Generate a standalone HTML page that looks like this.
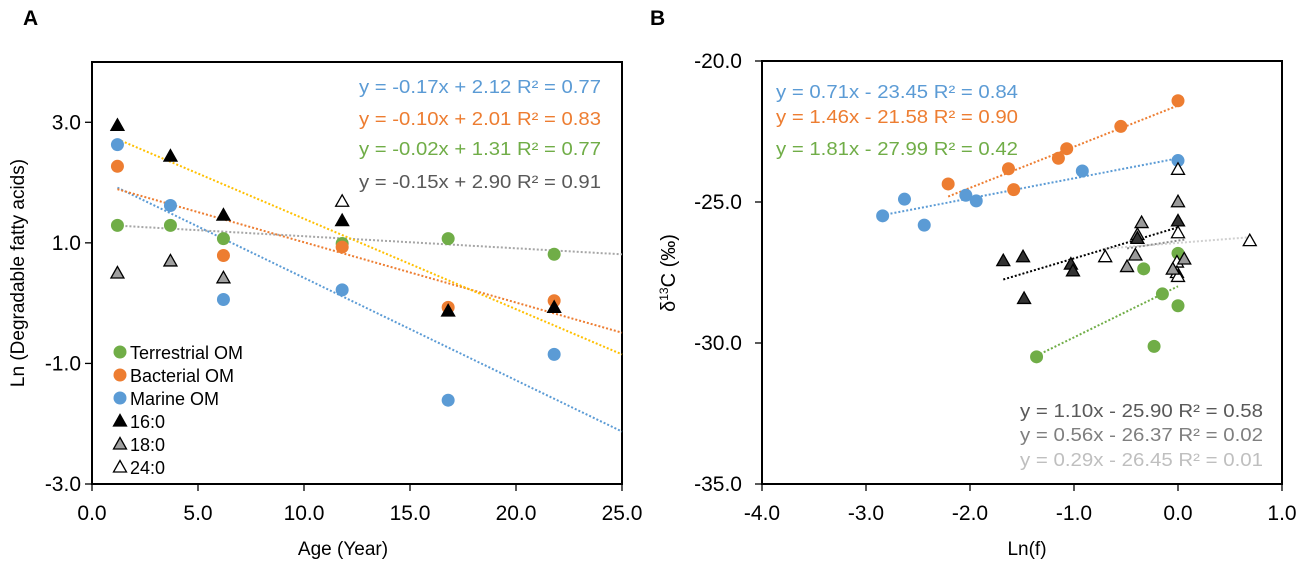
<!DOCTYPE html>
<html><head><meta charset="utf-8"><style>
html,body{margin:0;padding:0;background:#fff;}
svg{display:block;font-family:"Liberation Sans",Arial,sans-serif;}
</style></head><body>
<svg id="c" width="1299" height="563" viewBox="0 0 1299 563"></svg>
<script>
// ---- Panel A data ----
const agesA = [1.2, 3.7, 6.2, 11.8, 16.8, 21.8];
const terrA = [1.29, 1.29, 1.07, 0.99, 1.07, 0.81];
const bactA = [2.27, null, 0.79, 0.93, -0.07, 0.04];
const marA = [2.63, 1.62, 0.06, 0.22, -1.61, -0.85];
const c16A = [2.95, 2.44, 1.46, 1.37, -0.13, -0.07];
const c18A = [0.50, 0.70, 0.42, null, null, null];
const c24A = [null, null, null, 1.69, null, null];
const xTicksA = [0, 5, 10, 15, 20, 25];
const yTicksA = [-3, -1, 1, 3];
const fitsA = [ // slope, intercept
  [-0.17, 2.12], [-0.10, 2.01], [-0.02, 1.31], [-0.15, 2.90]];
const eqA = ["y = -0.17x + 2.12  R² = 0.77","y = -0.10x + 2.01  R² = 0.83","y = -0.02x + 1.31  R² = 0.77","y = -0.15x + 2.90  R² = 0.91"];
// ---- Panel B data ----
const marBx = [-2.84,-2.63,-2.44,-2.04,-1.94,-0.92,0.0];
const marBy = [-25.49,-24.90,-25.82,-24.76,-24.96,-23.90,-23.53];
const bacBx = [-2.21,-1.63,-1.58,-1.15,-1.07,-0.55,0.0];
const bacBy = [-24.36,-23.82,-24.56,-23.45,-23.11,-22.32,-21.41];
const terBx = [-1.36,-0.33,-0.15,-0.23,0.0,0.0];
const terBy = [-30.49,-27.37,-28.26,-30.12,-26.82,-28.68];
const c16Bx = [-1.68,-1.49,-1.48,-1.03,-1.01,-0.39,0.0];
const c16By = [-27.08,-26.94,-28.42,-27.20,-27.44,-26.29,-25.67];
const c18Bx = [-0.35,-0.39,-0.41,-0.49,0.0,0.06,-0.05];
const c18By = [-25.73,-26.15,-26.88,-27.29,-24.99,-27.02,-27.38];
const c24Bx = [0.0,0.0,-0.70,0.69,-0.01,-0.01,0.0];
const c24By = [-23.84,-26.09,-26.94,-26.37,-27.13,-27.50,-27.64];
const xTicksB = [-4,-3,-2,-1,0,1];
const yTicksB = [-35,-30,-25,-20];
const eqB1 = ["y = 0.71x - 23.45  R² = 0.84","y = 1.46x - 21.58  R² = 0.90","y = 1.81x - 27.99  R² = 0.42"];
const eqB2 = ["y = 1.10x - 25.90  R² = 0.58","y = 0.56x - 26.37  R² = 0.02","y = 0.29x - 26.45  R² = 0.01"];
const fitsB = [[0.71,-23.45],[1.46,-21.58],[1.81,-27.99],[1.10,-25.90],[0.56,-26.37],[0.29,-26.45]];

const BLUE="#5B9BD5",ORANGE="#ED7D31",GREEN="#70AD47",YEL="#FFC000";
const svg=document.getElementById('c');
const NS="http://www.w3.org/2000/svg";
function el(tag,attrs,parent){const e=document.createElementNS(NS,tag);for(const k in attrs)e.setAttribute(k,attrs[k]);(parent||svg).appendChild(e);return e;}
function txt(s,attrs,parent){const e=el('text',attrs,parent);e.textContent=s;return e;}

// scales
const ax=v=>92+(v-0)*(530/25), ay=v=>484-(v+3)*(422/7);
const bx=v=>762+(v+4)*104, by=v=>484-(v+35)*(423/15);

function circle(cx,cy,col,g){const e=el('circle',{cx:cx,cy:cy,r:6.5,fill:col},g);

return e;}
function tri(cx,cy,fill,g){const e=el('polygon',{points:`${cx},${cy-6.5} ${cx+6.5},${cy+5} ${cx-6.5},${cy+5}`,fill:fill,stroke:'#000','stroke-width':1.3},g);

return e;}
function line(x1,y1,x2,y2,col,g){const e=el('line',{x1:x1,y1:y1,x2:x2,y2:y2,stroke:col,'stroke-width':2,'stroke-dasharray':'2 2'},g);

return e;}

// ---------- Panel A ----------
const gA=el('g',{});


txt('A',{x:23,y:25,'font-size':21,'font-weight':'bold'},gA);
el('rect',{x:92,y:62,width:530,height:422,fill:'none',stroke:'#000','stroke-width':2},gA);
xTicksA.forEach(t=>{el('line',{x1:ax(t),x2:ax(t),y1:484,y2:491,stroke:'#000','stroke-width':1.3},gA);
 const l=txt(t.toFixed(1),{x:ax(t),y:520,'text-anchor':'middle','font-size':21},gA);
 
 });
yTicksA.forEach(t=>{el('line',{x1:85,x2:92,y1:ay(t),y2:ay(t),stroke:'#000','stroke-width':1.3},gA);
 const l=txt(t.toFixed(1),{x:81,y:ay(t)+7,'text-anchor':'end','font-size':21},gA);
 
 });
txt('Age (Year)',{x:343,y:555,'text-anchor':'middle','font-size':19,},gA);
txt('Ln (Degradable fatty acids)',{x:0,y:0,transform:'translate(24,273) rotate(-90)','text-anchor':'middle','font-size':19,},gA);
// trendlines
const fitColsA=[BLUE,ORANGE,'#A6A6A6',YEL];
fitsA.forEach((f,i)=>line(ax(agesA[0]),ay(f[0]*agesA[0]+f[1]),ax(25),ay(f[0]*25+f[1]),fitColsA[i],gA));
agesA.forEach((a,i)=>{
 if(terrA[i]!=null)circle(ax(a),ay(terrA[i]),GREEN,gA);
 if(bactA[i]!=null)circle(ax(a),ay(bactA[i]),ORANGE,gA);
 if(marA[i]!=null)circle(ax(a),ay(marA[i]),BLUE,gA);
 if(c16A[i]!=null)tri(ax(a),ay(c16A[i]),'#000',gA);
 if(c18A[i]!=null)tri(ax(a),ay(c18A[i]),'#A0A0A0',gA);
 if(c24A[i]!=null)tri(ax(a),ay(c24A[i]),'#fff',gA);
});
const eqColA=[BLUE,ORANGE,GREEN,'#595959'];
const eqYA=[93,125,155,188];
eqA.forEach((s,i)=>{const t=txt(s,{x:601,y:eqYA[i],'text-anchor':'end','font-size':18,fill:eqColA[i],textLength:242,lengthAdjust:'spacingAndGlyphs'},gA);
 
 });
// legend
const legG=el('g',{},gA);


const legNames=['Terrestrial OM','Bacterial OM','Marine OM','16:0','18:0','24:0'];
legNames.forEach((n,i)=>{const y=352+i*23;
 if(i==0)circle(120,y,GREEN,legG);if(i==1)circle(120,y,ORANGE,legG);if(i==2)circle(120,y,BLUE,legG);
 if(i==3)tri(120,y,'#000',legG);if(i==4)tri(120,y,'#A0A0A0',legG);if(i==5)tri(120,y,'#fff',legG);
 const t=txt(n,{x:130,y:y+7,'font-size':18},legG);
 
 });

// ---------- Panel B ----------
const gB=el('g',{});


txt('B',{x:650,y:25,'font-size':21,'font-weight':'bold'},gB);
el('rect',{x:762,y:61,width:520,height:423,fill:'none',stroke:'#000','stroke-width':2},gB);
xTicksB.forEach(t=>{el('line',{x1:bx(t),x2:bx(t),y1:484,y2:491,stroke:'#000','stroke-width':1.3},gB);
 const l=txt(t.toFixed(1),{x:bx(t),y:520,'text-anchor':'middle','font-size':21},gB);
 
 });
yTicksB.forEach(t=>{el('line',{x1:755,x2:762,y1:by(t),y2:by(t),stroke:'#000','stroke-width':1.3},gB);
 const l=txt(t.toFixed(1),{x:742,y:by(t)+7,'text-anchor':'end','font-size':21},gB);
 
 });
txt('Ln(f)',{x:1027,y:555,'text-anchor':'middle','font-size':19,},gB);
const yt=el('text',{transform:'translate(675,273) rotate(-90)','text-anchor':'middle','font-size':20,},gB);
yt.innerHTML='δ<tspan font-size="12" dy="-7">13</tspan><tspan dy="7">C (‰)</tspan>';
// trendlines
const rangesB=[[-2.84,0],[-2.21,0],[-1.36,0],[-1.68,0],[-0.49,0.06],[-0.70,0.69]];
const fitColsB=[BLUE,ORANGE,GREEN,'#000','#8C8C8C','#D0D0D0'];
fitsB.forEach((f,i)=>{const r=rangesB[i];line(bx(r[0]),by(f[0]*r[0]+f[1]),bx(r[1]),by(f[0]*r[1]+f[1]),fitColsB[i],gB);});
marBx.forEach((x,i)=>circle(bx(x),by(marBy[i]),BLUE,gB));
bacBx.forEach((x,i)=>circle(bx(x),by(bacBy[i]),ORANGE,gB));
terBx.forEach((x,i)=>circle(bx(x),by(terBy[i]),GREEN,gB));
c24Bx.forEach((x,i)=>tri(bx(x),by(c24By[i]),'#fff',gB));
c18Bx.forEach((x,i)=>tri(bx(x),by(c18By[i]),'#9A9A9A',gB));
c16Bx.forEach((x,i)=>tri(bx(x),by(c16By[i]),'#333',gB));
const eqColB1=[BLUE,ORANGE,GREEN],eqYB1=[98,123,155];
eqB1.forEach((s,i)=>{const t=txt(s,{x:776,y:eqYB1[i],'font-size':18,fill:eqColB1[i],textLength:242,lengthAdjust:'spacingAndGlyphs'},gB);
 
 });
const eqColB2=['#595959','#7F7F7F','#BFBFBF'],eqYB2=[417,441,466];
eqB2.forEach((s,i)=>{const t=txt(s,{x:1263,y:eqYB2[i],'text-anchor':'end','font-size':18,fill:eqColB2[i],textLength:243,lengthAdjust:'spacingAndGlyphs'},gB);
 
 });
</script>
</body></html>
